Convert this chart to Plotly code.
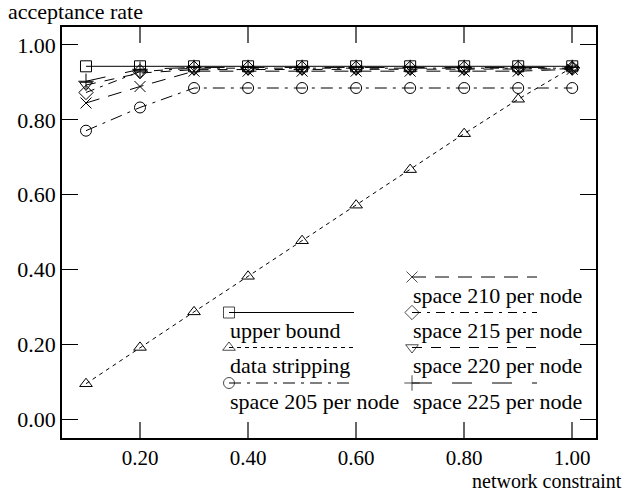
import plotly.graph_objects as go

# network constraint values on the x axis
constraint = [0.1, 0.2, 0.3, 0.4, 0.5, 0.6, 0.7, 0.8, 0.9, 1.0]

# acceptance rate per scheme
upper_bound = [0.943, 0.943, 0.943, 0.943, 0.943, 0.943, 0.943, 0.943, 0.943, 0.943]
data_stripping = [0.095, 0.192, 0.287, 0.382, 0.477, 0.572, 0.667, 0.763, 0.855, 0.940]
space_205 = [0.771, 0.833, 0.885, 0.885, 0.885, 0.885, 0.885, 0.885, 0.885, 0.885]
space_210 = [0.845, 0.889, 0.930, 0.930, 0.930, 0.930, 0.930, 0.930, 0.930, 0.935]
space_215 = [0.873, 0.929, 0.938, 0.938, 0.938, 0.938, 0.938, 0.938, 0.938, 0.938]
space_220 = [0.893, 0.925, 0.934, 0.934, 0.934, 0.934, 0.934, 0.934, 0.934, 0.936]
space_225 = [0.903, 0.935, 0.940, 0.940, 0.940, 0.940, 0.940, 0.940, 0.940, 0.940]

x_ticks = [0.2, 0.4, 0.6, 0.8, 1.0]
y_ticks = [0.0, 0.2, 0.4, 0.6, 0.8, 1.0]

FONT = "Liberation Serif"
FS = 22
W, H = 628, 493
L, R, T, B = 62, 596, 27, 438  # plot frame in page pixels


def paper_x(px):
    return (px - L) / (R - L)


def paper_y(py):
    return (B - py) / (B - T)


series = [
    # name, values, marker symbol, dash pattern, legend column, legend row
    ("upper bound", upper_bound, "square-open", "solid", 0, 1),
    ("data stripping", data_stripping, "triangle-up-open", "4px,4px", 0, 2),
    ("space 205 per node", space_205, "circle-open", "12px,6px,3px,6px", 0, 3),
    ("space 210 per node", space_210, "x-thin-open", "14px,9px", 1, 0),
    ("space 215 per node", space_215, "diamond-open", "9px,6px,3px,6px", 1, 1),
    ("space 220 per node", space_220, "triangle-down-open", "10px,9px", 1, 2),
    ("space 225 per node", space_225, "cross-thin-open", "20px,20px", 1, 3),
]

fig = go.Figure()

for name, vals, sym, dash, col, row in series:
    fig.add_trace(go.Scatter(
        x=constraint, y=vals, mode="lines+markers", name=name,
        line=dict(color="black", width=1, dash=dash),
        marker=dict(symbol=sym, size=11, color="black",
                    line=dict(color="black", width=1)),
        showlegend=False, cliponaxis=False,
    ))

# hand-laid legend: sample line with marker, label underneath
col_x = [229, 412]
row_y = [277, 312.5, 347.5, 383]
sample_len = 125
annotations = []
for name, vals, sym, dash, col, row in series:
    x0 = col_x[col]
    y0 = row_y[row]
    fig.add_trace(go.Scatter(
        x=[x0, x0 + sample_len], y=[y0, y0], xaxis="x2", yaxis="y2",
        mode="lines+markers", showlegend=False, hoverinfo="skip",
        line=dict(color="black", width=1, dash=dash),
        marker=dict(symbol=sym, size=[11, 0], color="black",
                    line=dict(color="black", width=1)),
        cliponaxis=False,
    ))
    annotations.append(dict(
        x=paper_x(x0 - 1), y=paper_y(y0 + 18), xref="paper", yref="paper",
        text=name, showarrow=False, xanchor="left", yanchor="middle",
        font=dict(family=FONT, size=FS, color="black"),
    ))

# axis titles
annotations.append(dict(
    x=paper_x(6), y=paper_y(12), xref="paper", yref="paper",
    text="acceptance rate", showarrow=False, xanchor="left", yanchor="middle",
    font=dict(family=FONT, size=FS, color="black"),
))
annotations.append(dict(
    x=paper_x(623), y=paper_y(493), xref="paper", yref="paper",
    text="network constraint", showarrow=False, xanchor="right",
    yanchor="bottom", borderpad=0,
    font=dict(family=FONT, size=FS - 2, color="black"),
))

fig.update_layout(
    width=W, height=H,
    margin=dict(l=L, r=W - R, t=T, b=H - B, pad=0),
    paper_bgcolor="white", plot_bgcolor="white",
    font=dict(family=FONT, size=FS, color="black"),
    annotations=annotations,
    xaxis=dict(
        range=[0.0556, 1.044], tickvals=x_ticks,
        ticktext=[f"{v:.2f}" for v in x_ticks],
        ticks="inside", ticklen=16, tickcolor="#666", tickwidth=1.5,
        showline=True, linecolor="black", linewidth=1.5, mirror="ticks",
        showgrid=False, zeroline=False,
        tickfont=dict(family=FONT, size=FS - 1, color="black"),
    ),
    yaxis=dict(
        range=[-0.05, 1.048], tickvals=y_ticks,
        ticktext=[f"{v:.2f}" for v in y_ticks],
        ticks="inside", ticklen=16, tickcolor="black", tickwidth=1,
        showline=True, linecolor="black", linewidth=1.5, mirror="ticks",
        showgrid=False, zeroline=False,
        tickfont=dict(family=FONT, size=FS, color="black"),
    ),
    xaxis2=dict(range=[L, R], overlaying="x", visible=False, fixedrange=True),
    yaxis2=dict(range=[B, T], overlaying="y", visible=False, fixedrange=True),
)

fig.write_html("out.html")
